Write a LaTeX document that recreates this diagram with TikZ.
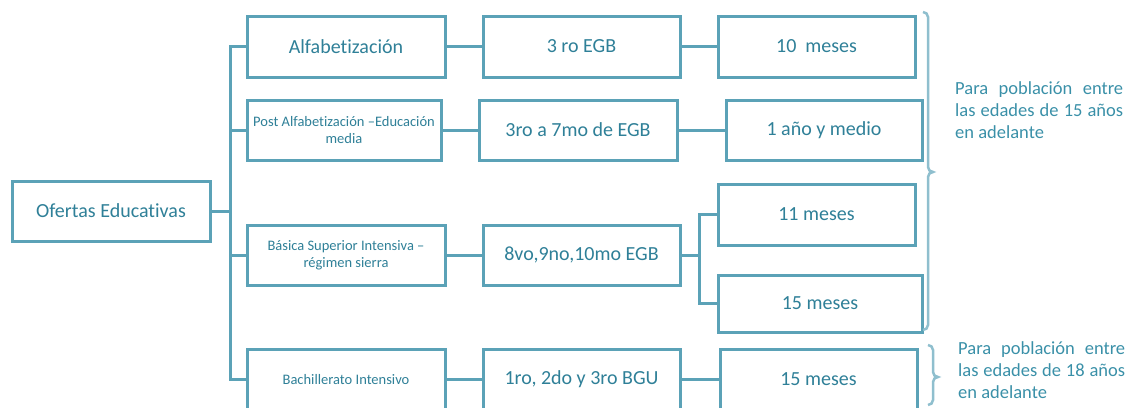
\documentclass[tikz,border=0pt]{standalone}
\usepackage{fontspec}
\setmainfont[Ligatures={NoCommon}]{Carlito}
\definecolor{linec}{HTML}{5BA2B7}
\definecolor{textc}{HTML}{2F8098}
\definecolor{bracec}{HTML}{8FBFCE}
\definecolor{sidec}{HTML}{3A90A8}
\tikzset{
  box/.style={draw=linec, line width=3pt, fill=white, text=textc, inner sep=1pt, align=center},
  big/.style={font=\fontsize{20}{22}\selectfont},
  small/.style={font=\fontsize{14.5}{17}\selectfont},
  conn/.style={draw=linec, line width=3pt},
  bracel/.style={draw=bracec, line width=2.5pt},
  side/.style={text=sidec, font=\fontsize{18.5}{22}\selectfont, inner sep=0pt, anchor=base west}
}
\begin{document}
\begin{tikzpicture}[x=1pt,y=-1pt]
\useasboundingbox (0,0) rectangle (1132,407);
% nodes
\node[box,big,minimum width=198pt,minimum height=60pt] (O) at (111,211) {Ofertas Educativas};
\node[box,big,minimum width=198pt,minimum height=61pt] (A1) at (346,46.5) {Alfabetización};
\node[box,small,minimum width=194pt,minimum height=60pt] (A2) at (344,130) {Post Alfabetización –Educación\\media};
\node[box,small,minimum width=198pt,minimum height=60pt] (A3) at (346,255) {Básica Superior Intensiva –\\régimen sierra};
\node[box,small,minimum width=198pt,minimum height=60pt] (A4) at (346,379.5) {Bachillerato Intensivo};
\node[box,big,minimum width=197pt,minimum height=61pt] (B1) at (581.5,46.5) {3 ro EGB};
\node[box,big,minimum width=198pt,minimum height=60pt] (B2) at (578,130) {3ro a 7mo de EGB};
\node[box,big,minimum width=197pt,minimum height=60pt] (B3) at (581.5,255) {8vo,9no,10mo EGB};
\node[box,big,minimum width=197pt,minimum height=60pt] (B4) at (581.5,379.5) {1ro, 2do y 3ro BGU};
\node[box,big,minimum width=197pt,minimum height=61pt] (C1) at (816.5,46.5) {10\hspace{9pt}meses};
\node[box,big,minimum width=196pt,minimum height=60pt] (C2) at (824,130) {1 año y medio};
\node[box,big,minimum width=197pt,minimum height=61pt] (C3) at (816.5,214.5) {11 meses};
\node[box,big,minimum width=204pt,minimum height=57pt] (C4) at (820,303.5) {15 meses};
\node[box,big,minimum width=197pt,minimum height=60pt] (C5) at (818.5,379.5) {15 meses};
% junction coordinates
\coordinate (tr) at (230,0);
\coordinate (jn) at (699,0);
% connectors
\draw[conn] (O.east) -- (O.east -| tr);
\draw[conn] (A1.west) -- (A1.west -| tr) -- (A4.west -| tr) -- (A4.west);
\draw[conn] (A2.west) -- (A2.west -| tr);
\draw[conn] (A3.west) -- (A3.west -| tr);
\draw[conn] (A1.east) -- (B1.west);
\draw[conn] (A2.east) -- (B2.west);
\draw[conn] (A3.east) -- (B3.west);
\draw[conn] (A4.east) -- (B4.west);
\draw[conn] (B1.east) -- (C1.west);
\draw[conn] (B2.east) -- (C2.west);
\draw[conn] (B4.east) -- (C5.west);
\draw[conn] (B3.east) -- (B3.east -| jn);
\draw[conn] (C3.west) -- (C3.west -| jn) -- (C4.west -| jn) -- (C4.west);
% braces
\draw[bracel] (923,12) to[out=0,in=90] (928,17) -- (928,167) to[out=-90,in=180] (933,172)
  to[out=180,in=90] (928,177) -- (928,325) to[out=-90,in=0] (923,330);
\draw[bracel] (928,345) to[out=0,in=90] (933,350) -- (933,372) to[out=-90,in=180] (938,377)
  to[out=180,in=90] (933,382) -- (933,400) to[out=-90,in=0] (928,405);
% side texts
\node[side] (t1a) at (955,94) {\makebox[168pt][s]{Para población entre}};
\node[side] (t1b) at (955,116) {\makebox[168pt][s]{las edades de 15 años}};
\node[side] (t1c) at (955,138) {en adelante};
\node[side] (t2a) at (958,354) {\makebox[167pt][s]{Para población entre}};
\node[side] (t2b) at (958,376) {\makebox[167pt][s]{las edades de 18 años}};
\node[side] (t2c) at (958,398) {en adelante};
\end{tikzpicture}
\end{document}
